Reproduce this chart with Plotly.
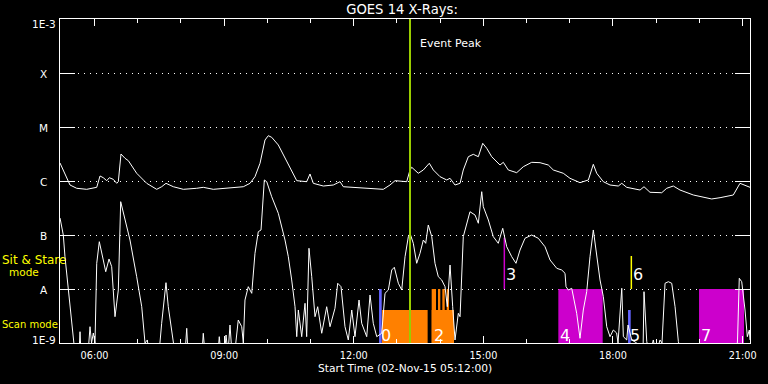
import plotly.graph_objects as go
import pandas as pd

# ---------------- data ----------------
START = pd.Timestamp("2015-11-02 05:12:00")
END_MINUTES = 958.3
EVENT_PEAK_MIN = 486.1

# GOES long channel (1-8 A): minutes after start, log10 flux
long_minutes = [0, 4.6, 13.9, 23.2, 37.1, 51.0, 55.6, 60.1, 64.9, 68.5,
                74.0, 78.8, 81.0, 84.7, 90.3, 94.9, 106.5, 120.4, 134.3, 141.2,
                147.2, 157.4, 171.3, 189.9, 199.0, 212.9, 236.1, 254.6, 263.9, 270.8,
                277.8, 284.7, 289.3, 294.0, 303.2, 314.9, 328.8, 342.6, 347.2, 351.8,
                365.7, 379.6, 388.9, 393.5, 407.4, 426.0, 449.0, 458.3, 465.3, 481.5,
                486.1, 488.5, 497.6, 504.6, 512.9, 518.5, 527.8, 537.1, 541.7, 548.6,
                555.6, 560.1, 567.1, 574.0, 581.0, 587.1, 592.6, 599.6, 611.1, 615.7,
                622.6, 634.3, 643.5, 655.1, 666.7, 678.2, 685.1, 699.0, 708.3, 722.2,
                733.8, 740.7, 745.4, 754.6, 763.9, 775.4, 780.2, 787.1, 805.6, 811.1,
                819.4, 835.7, 842.6, 851.8, 861.1, 879.6, 905.1, 916.7, 935.1, 944.4,
                958.3]
long_log10 = [-5.667, -5.796, -6.074, -6.135, -6.154, -6.117, -5.907, -5.939, -5.994, -5.939,
              -5.969, -6.043, -6.013, -5.500, -5.580, -5.624, -5.857, -6.043, -6.154, -6.106,
              -6.043, -6.106, -6.154, -6.135, -6.117, -6.154, -6.135, -6.106, -6.043, -5.920,
              -5.672, -5.241, -5.161, -5.191, -5.333, -5.643, -5.994, -6.013, -5.870, -6.043,
              -6.093, -6.074, -6.013, -6.106, -6.117, -6.135, -6.154, -6.074, -5.994, -6.013,
              -5.796, -5.746, -5.857, -5.796, -5.672, -5.796, -5.920, -5.981, -5.950, -6.074,
              -6.043, -5.796, -5.550, -5.506, -5.550, -5.302, -5.394, -5.550, -5.704, -5.654,
              -5.796, -5.846, -5.735, -5.654, -5.661, -5.704, -5.796, -5.857, -5.950, -6.031,
              -5.981, -5.691, -5.857, -6.013, -6.074, -6.093, -6.043, -6.117, -6.167, -6.106,
              -6.209, -6.217, -6.135, -6.093, -6.167, -6.259, -6.333, -6.309, -6.259, -6.043,
              -6.117]

# GOES short channel (0.5-4 A): minutes after start, log10 flux
short_minutes = [0, 4.6, 6.9, 11.5, 16.3, 18.5, 20.8, 26.4, 27.8, 29.2,
                 38.9, 41.7, 43.8, 46.3, 48.6, 51.0, 54.6, 60.1, 63.5, 68.1,
                 71.8, 76.4, 81.0, 84.3, 90.3, 97.2, 106.5, 113.5, 118.1, 121.3,
                 123.6, 137.5, 141.2, 147.2, 150.4, 155.1, 159.7, 173.6, 176.0, 177.8,
                 197.2, 199.0, 201.4, 219.4, 221.2, 223.6, 228.5, 230.6, 233.3, 236.1,
                 238.9, 242.5, 245.4, 247.6, 252.4, 254.6, 256.9, 261.5, 266.3, 270.8,
                 275.4, 279.2, 283.8, 287.1, 294.0, 303.2, 312.5, 317.1, 321.8, 326.4,
                 328.8, 331.0, 335.7, 340.3, 342.6, 345.8, 349.6, 354.2, 357.9, 363.5,
                 370.4, 375.0, 381.9, 385.7, 390.3, 395.8, 400.4, 405.2, 409.7, 415.3,
                 419.0, 426.0, 430.6, 435.1, 439.9, 446.8, 451.4, 456.0, 460.7, 464.3,
                 469.9, 474.6, 479.2, 483.8, 486.1, 490.7, 495.4, 500.0, 504.6, 507.9,
                 511.5, 516.3, 520.8, 525.4, 530.1, 534.7, 537.9, 541.7, 545.4, 548.6,
                 553.2, 555.6, 560.1, 564.8, 569.4, 576.4, 581.0, 585.7, 587.9, 594.9,
                 601.8, 608.7, 614.9, 620.4, 627.4, 633.3, 638.9, 645.8, 655.1, 664.3,
                 673.6, 680.6, 689.9, 696.8, 701.4, 702.8, 706.0, 710.7, 712.9, 717.6,
                 722.2, 726.8, 731.5, 736.1, 740.7, 745.4, 750.0, 754.6, 759.3, 763.9,
                 768.5, 773.1, 775.0, 780.2, 782.4, 787.1, 788.9, 794.1, 801.0, 805.6,
                 809.7, 811.1, 814.9, 819.4, 824.0, 827.8, 833.3, 836.1, 840.3, 844.9,
                 849.6, 854.2, 858.8, 863.5, 939.8, 941.0, 943.4, 946.8, 951.4, 954.6,
                 957.4, 958.3]
short_log10 = [-6.685, -7.000, -7.402, -8.019, -8.698, -9.000, -9.200, -9.200, -8.791, -9.200,
               -9.200, -8.698, -9.000, -8.815, -9.000, -7.524, -7.124, -7.463, -7.680, -7.444,
               -7.587, -8.513, -8.019, -6.383, -6.722, -7.093, -7.772, -8.328, -9.000, -8.944,
               -9.200, -9.200, -8.635, -7.883, -8.328, -8.820, -9.200, -9.200, -8.728, -9.200,
               -9.200, -8.820, -9.200, -9.200, -8.883, -9.200, -9.200, -8.852, -9.200, -8.667,
               -9.200, -9.200, -8.820, -8.574, -8.698, -9.000, -8.204, -7.957, -8.080, -7.339,
               -6.939, -6.907, -5.981, -6.013, -6.291, -6.598, -7.093, -7.402, -7.833, -8.328,
               -8.883, -8.389, -8.883, -8.265, -8.883, -7.246, -7.772, -8.513, -8.328, -8.820,
               -8.328, -8.698, -8.357, -7.894, -7.957, -8.698, -8.944, -8.389, -8.883, -8.204,
               -8.635, -8.883, -8.111, -8.635, -8.883, -8.820, -8.080, -8.019, -7.648, -7.598,
               -7.894, -8.019, -7.402, -7.031, -6.969, -7.154, -7.524, -7.339, -7.093, -7.154,
               -6.815, -7.031, -7.524, -7.772, -7.833, -7.957, -8.328, -7.556, -8.328, -8.944,
               -8.450, -8.513, -7.031, -6.783, -6.569, -6.630, -6.783, -6.198, -6.476, -6.722,
               -7.031, -7.154, -6.876, -7.217, -7.402, -7.524, -7.278, -7.061, -7.000, -7.061,
               -7.217, -7.463, -7.617, -7.648, -7.709, -7.957, -8.019, -7.987, -8.143, -8.450,
               -8.913, -8.389, -8.050, -7.402, -6.907, -7.339, -7.833, -8.143, -8.698, -8.883,
               -8.759, -8.815, -9.000, -7.987, -8.883, -8.944, -8.667, -8.944, -9.000, -9.200,
               -9.200, -8.050, -8.976, -9.200, -8.944, -9.200, -8.944, -9.000, -7.894, -7.865,
               -7.894, -8.328, -8.976, -9.200, -9.200, -8.944, -7.802, -7.865, -8.389, -8.883,
               -8.759, -8.944]

# Observation blocks (minutes after start, log10 extent)
obs_labels = ["0", "", "2", "3", "4", "5", "6", "7"]
obs_start = [443.1, 447.2, 516.2, 617.1, 692.1, 788.9, 793.5, 887.5]
obs_end = [446.8, 510.6, 547.2, 617.1, 753.7, 792.6, 793.5, 950.0]
obs_bottom = [-9, -9, -9, -8, -9, -9, -8, -9]
obs_top = [-8, -8.389, -8.389, -7.05, -8, -8.389, -7.389, -8]
obs_colors = ["#6464FF", "#FF8000", "#FF8000", "#CC00CC", "#CC00CC", "#6464FF", "#FFFF00", "#CC00CC"]

# tall sub-stripes of block 2
stripe_start = [516.2, 525.0, 531.0, 537.1]
stripe_end = [522.2, 528.2, 534.3, 540.3]
stripe_top = -8

y_tickvals = [-9, -8, -7, -6, -5, -4, -3]
y_ticktext = ["1E-9", "A", "B", "C", "M", "X", "1E-3"]

FONT = "DejaVu Sans"


def t(m):
    return START + pd.Timedelta(minutes=m)


def ts(ms):
    return [t(m) for m in ms]


fig = go.Figure()

# blocks
for i in range(len(obs_labels)):
    a, b = obs_start[i], obs_end[i]
    lo, hi = 10 ** obs_bottom[i], 10 ** obs_top[i]
    if b - a < 0.5:
        fig.add_trace(go.Scatter(x=ts([a, a]), y=[lo, hi], mode="lines",
                                 line=dict(color=obs_colors[i], width=1.5), hoverinfo="skip"))
    else:
        lo_draw = 10 ** (obs_bottom[i] - 0.2) if obs_bottom[i] <= -9 else lo
        fig.add_trace(go.Scatter(x=ts([a, b, b, a, a]), y=[lo_draw, lo_draw, hi, hi, lo_draw],
                                 mode="lines", fill="toself", fillcolor=obs_colors[i],
                                 line=dict(width=0, color=obs_colors[i]), hoverinfo="skip"))
for a, b in zip(stripe_start, stripe_end):
    lo = 10 ** -9.2
    hi = 10 ** stripe_top
    fig.add_trace(go.Scatter(x=ts([a, b, b, a, a]), y=[lo, lo, hi, hi, lo],
                             mode="lines", fill="toself", fillcolor="#FF8000",
                             line=dict(width=0, color="#FF8000"), hoverinfo="skip"))

# curves
fig.add_trace(go.Scatter(x=ts(short_minutes), y=[10 ** v for v in short_log10], mode="lines",
                         line=dict(color="white", width=1), hoverinfo="skip"))
fig.add_trace(go.Scatter(x=ts(long_minutes), y=[10 ** v for v in long_log10], mode="lines",
                         line=dict(color="white", width=1), hoverinfo="skip"))

# event peak
fig.add_trace(go.Scatter(x=ts([EVENT_PEAK_MIN, EVENT_PEAK_MIN]), y=[1e-9, 1e-3], mode="lines",
                         line=dict(color="#9ACD00", width=2), hoverinfo="skip"))

ann = []
# y labels
for i, (v, txt) in enumerate(zip(y_tickvals, y_ticktext)):
    shift = 0
    if i == 0:
        shift = 4
    elif i == len(y_tickvals) - 1:
        shift = -4
    ann.append(dict(x=-0.0232, xref="paper", y=v, yref="y", text=txt, showarrow=False,
                    xanchor="center", yanchor="middle", yshift=shift - 1,
                    font=dict(family=FONT, size=10.5, color="white")))

# observation labels
for i, lab in enumerate(obs_labels):
    if not lab:
        continue
    base = obs_bottom[i]
    ysh = 8 if base <= -9 else 15
    ann.append(dict(x=t(obs_start[i]), xref="x", y=base, yref="y", text=lab, showarrow=False,
                    xanchor="left", yanchor="middle", yshift=ysh, xshift=0,
                    font=dict(family=FONT, size=16, color="white")))

# mode labels
ann.append(dict(x=-0.087, xref="paper", y=0.2577, yref="paper", text="Sit & Stare",
                showarrow=False, xanchor="left", yanchor="middle",
                font=dict(family=FONT, size=12, color="#FFFF00")))
ann.append(dict(x=(24.3 - 60) / 690, xref="paper", y=0.2191, yref="paper", text="mode",
                showarrow=False, xanchor="center", yanchor="middle",
                font=dict(family=FONT, size=10.5, color="#FFFF00")))
ann.append(dict(x=-0.087, xref="paper", y=0.0571, yref="paper", text="Scan mode",
                showarrow=False, xanchor="left", yanchor="middle",
                font=dict(family=FONT, size=10, color="#FFFF00")))

# event peak text
ann.append(dict(x=t(EVENT_PEAK_MIN), xref="x", y=0.9235, yref="paper", text="Event Peak",
                showarrow=False, xanchor="left", yanchor="middle", xshift=8,
                font=dict(family=FONT, size=11, color="white")))

# x title
ann.append(dict(x=0.5, xref="paper", y=-0.0802, yref="paper",
                text="Start Time (02-Nov-15 05:12:00)", showarrow=False,
                xanchor="center", yanchor="middle",
                font=dict(family=FONT, size=10.7, color="white")))

fig.update_layout(
    width=768, height=384,
    margin=dict(l=60, r=18, t=19, b=41, pad=0),
    paper_bgcolor="black", plot_bgcolor="black",
    showlegend=False,
    title=dict(text="GOES 14 X-Rays:", x=402 / 768, xref="container", xanchor="center",
               y=1 - 9.5 / 384, yref="container", yanchor="middle",
               font=dict(family=FONT, size=13.2, color="white")),
    annotations=ann,
    xaxis=dict(
        type="date",
        range=[t(0), t(END_MINUTES)],
        tickformat="%H:%M",
        tick0="2015-11-02 00:00:00",
        dtick=3 * 3600000,
        ticks="inside", ticklen=7, tickwidth=1, tickcolor="white",
        showline=True, linecolor="white", linewidth=1, mirror="ticks",
        showgrid=False, zeroline=False,
        ticklabelstandoff=3,
        tickfont=dict(family=FONT, size=9.7, color="white"),
        minor=dict(dtick=3600000, tick0="2015-11-02 00:00:00", ticks="inside",
                   ticklen=4, tickwidth=1, tickcolor="white", showgrid=False),
    ),
    yaxis=dict(
        type="log",
        range=[-9, -3],
        tickvals=[10 ** v for v in y_tickvals],
        showticklabels=False,
        ticks="inside", ticklen=15, tickwidth=1, tickcolor="white",
        showline=True, linecolor="white", linewidth=1, mirror="ticks",
        showgrid=True, gridcolor="white", gridwidth=1, griddash="1px,5px",
        zeroline=False,
    ),
)

fig.write_html("out.html",
               config={"displayModeBar": False},
               post_script="document.body.style.margin='0px';document.body.style.background='black';")
